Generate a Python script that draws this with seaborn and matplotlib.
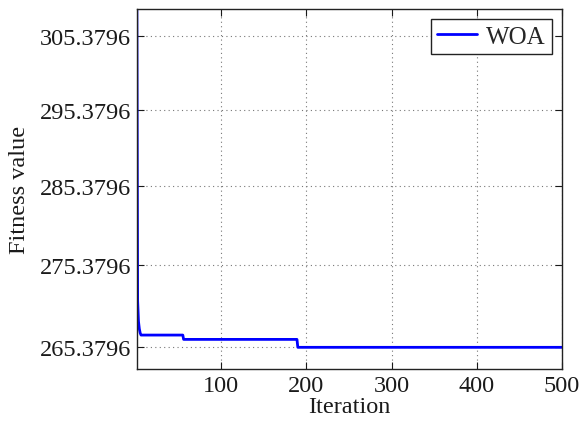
import matplotlib
matplotlib.use("Agg")
import matplotlib.pyplot as plt
import seaborn as sns
import pandas as pd
from matplotlib.ticker import FixedLocator, NullLocator, NullFormatter

# Data
iterations = [1, 2, 3, 4, 5, 6, 55, 56, 189, 190, 500]
fitness = [315.0, 271.0, 268.5, 267.6, 267.1, 266.85, 266.85, 266.33, 266.33, 265.3796, 265.3796]
series_name = "WOA"
y_ticks = [265.3796, 275.3796, 285.3796, 295.3796, 305.3796]
y_tick_labels = ["265.3796", "275.3796", "285.3796", "295.3796", "305.3796"]
x_ticks = [100, 200, 300, 400, 500]

sns.set_theme(style="ticks")
plt.rcParams["font.family"] = ["Liberation Serif", "DejaVu Serif"]

df = pd.DataFrame({"Iteration": iterations, "Fitness value": fitness, "Algorithm": series_name})

fig = plt.figure(figsize=(5.82, 4.27), dpi=100)
ax = fig.add_axes([0.235, 0.1335, 0.7306, 0.8431])

sns.lineplot(data=df, x="Iteration", y="Fitness value", hue="Algorithm",
             palette=["#0000ff"], linewidth=2.0, ax=ax, sort=False,
             estimator=None)

ax.set_yscale("log")
ax.set_xlim(1, 500)
ax.set_ylim(262.8, 309.1)
ax.yaxis.set_major_locator(FixedLocator(y_ticks))
ax.set_yticklabels(y_tick_labels)
ax.yaxis.set_minor_locator(NullLocator())
ax.yaxis.set_minor_formatter(NullFormatter())
ax.set_xticks(x_ticks)
ax.xaxis.set_minor_locator(NullLocator())

ax.grid(True, linestyle=(0, (1, 3)), color="#777777", linewidth=0.8)
ax.tick_params(direction="in", length=5, width=0.8, top=True, right=True,
               labelsize=17.5, colors="#1a1a1a", pad=4)
for s in ax.spines.values():
    s.set_linewidth(1.0)
    s.set_color("#222222")
    s.set_visible(True)

ax.set_xlabel("Iteration", fontsize=17.5, labelpad=0, color="#1a1a1a")
ax.set_ylabel("Fitness value", fontsize=17.5, labelpad=7, color="#1a1a1a")

leg = ax.legend(loc="upper right", fontsize=18, frameon=True, fancybox=False,
                edgecolor="#222222", borderaxespad=0.4, handlelength=1.6,
                borderpad=0.25, handletextpad=0.35)
leg.get_frame().set_linewidth(1.0)
leg.get_frame().set_alpha(1)

fig.savefig("out.png", dpi=100)
